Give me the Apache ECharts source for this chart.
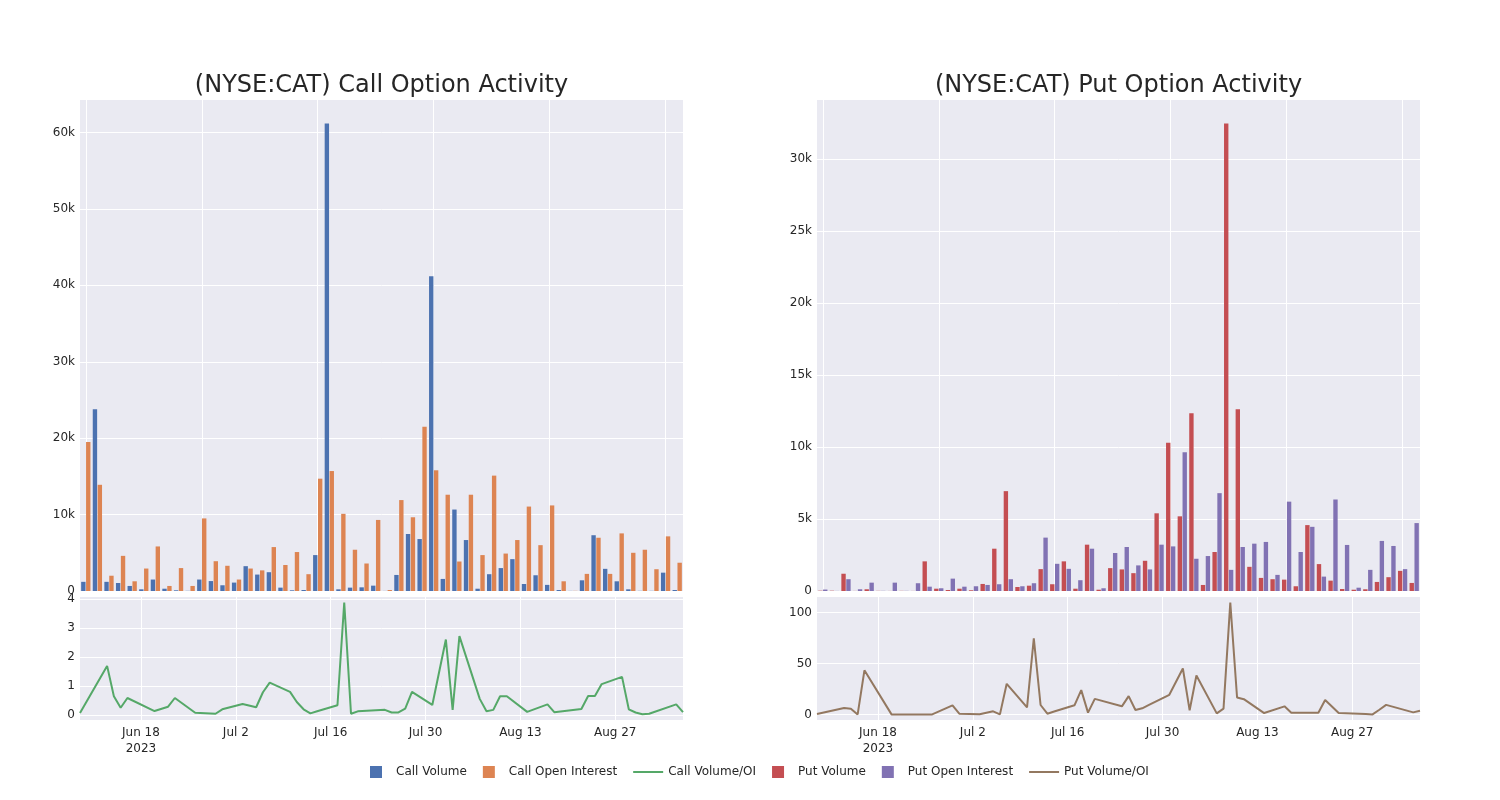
<!DOCTYPE html>
<html><head><meta charset="utf-8">
<script src="https://cdn.jsdelivr.net/npm/echarts@6/dist/echarts.min.js"></script>
<style>html,body{margin:0;padding:0;background:#fff}#c{width:1500px;height:800px}</style>
</head><body><div id="c"></div>
<script>
// ---- data ----
const dates = [
 '2023-06-09','2023-06-13','2023-06-14','2023-06-15','2023-06-16','2023-06-20','2023-06-22','2023-06-23','2023-06-26','2023-06-29','2023-06-30',
 '2023-07-03','2023-07-05','2023-07-06','2023-07-07','2023-07-10','2023-07-11','2023-07-12','2023-07-13','2023-07-14','2023-07-17','2023-07-18','2023-07-19','2023-07-20','2023-07-24','2023-07-25','2023-07-26','2023-07-27','2023-07-28','2023-07-31',
 '2023-08-02','2023-08-03','2023-08-04','2023-08-07','2023-08-08','2023-08-09','2023-08-10','2023-08-11','2023-08-14','2023-08-17','2023-08-18','2023-08-22','2023-08-23','2023-08-24','2023-08-25','2023-08-28','2023-08-29','2023-08-30','2023-08-31',
 '2023-09-01','2023-09-05','2023-09-06'];
const callVolume = [1200,23800,1200,1050,660,220,1500,300,90,20,1500,1300,750,1100,3250,2150,2460,440,90,130,4700,61200,220,440,480,700,10,2100,7460,6800,41200,1580,10660,6670,300,2200,3000,4170,920,2060,800,130,13,1400,7300,2900,1270,220,20,20,2400,130];
const callOpenInterest = [19500,13900,2000,4600,1270,2940,5830,660,3000,660,9500,3900,3300,1500,2940,2700,5750,3400,5100,2200,14700,15700,10100,5400,3600,9300,130,11900,9650,21500,15800,12600,3860,12600,4700,15100,4900,6670,11050,6000,11200,1270,20,2240,6970,2240,7540,5000,5400,2850,7150,3700];
const callVolumeOI = [0.06,1.69,0.64,0.245,0.58,0.13,0.28,0.58,0.07,0.035,0.19,0.37,0.26,0.78,1.11,0.79,0.44,0.19,0.05,0.12,0.33,3.88,0.035,0.12,0.17,0.08,0.08,0.21,0.79,0.34,2.6,0.17,2.72,0.55,0.12,0.17,0.64,0.64,0.1,0.36,0.09,0.2,0.65,0.65,1.06,1.31,0.19,0.08,0.02,0.035,0.36,0.09];
const putVolume = [20,20,1200,5,120,10,5,10,5,2060,160,70,160,50,490,2940,6940,280,370,1520,470,2060,160,3220,90,1590,1500,1240,2100,5400,10300,5190,12360,420,2710,32500,12640,1680,910,820,790,330,4580,1870,720,140,90,120,630,960,1400,560];
const putOpenInterest = [100,5,820,120,580,10,580,10,540,300,190,860,300,330,420,470,820,330,540,3710,1890,1540,750,2940,190,2640,3060,1780,1500,3220,3100,9650,2240,2430,6800,1470,3060,3290,3410,1120,6210,2710,4460,1000,6360,3200,230,1470,3480,3130,1520,4720];
const putVolumeOI = [0.3,6.3,5.6,0,43.2,0,0,0,0,8.9,0.7,0.1,3.0,0,30,6.9,74.6,9.2,0.7,2.8,8.9,23.8,1.7,15.2,7.9,17.9,4.3,6.0,9.3,19.2,45.0,4.0,38.1,1.0,5.6,109.6,16.6,14.9,1.3,7.9,1.7,1.7,14.2,7.8,1.3,0.7,0.5,0,4.6,9.3,2.0,3.6];
const dateTicks = ['2023-06-18','2023-07-02','2023-07-16','2023-07-30','2023-08-13','2023-08-27'];
const callTicks = [0,10000,20000,30000,40000,50000,60000];
const putTicks = [0,5000,10000,15000,20000,25000,30000];
const callRatioTicks = [0,1,2,3,4];
const putRatioTicks = [0,50,100];

// ---- helpers ----
const ts = s => echarts.number.parseDate(s).getTime();
const months = ['Jan','Feb','Mar','Apr','May','Jun','Jul','Aug','Sep','Oct','Nov','Dec'];
const firstTick = ts(dateTicks[0]);
const fmtDate = v => { const d = new Date(v); let s = months[d.getMonth()] + ' ' + d.getDate(); if (v === firstTick) s += '\n' + d.getFullYear(); return s; };
const fmtK = v => v === 0 ? '0' : (v / 1000) + 'k';
const TXT = '#262626', BG = '#EAEAF2';
const lbl = {color: TXT, fontSize: 12, fontFamily: 'DejaVu Sans'};
const white = {show: true, lineStyle: {color: '#fff', width: 1}};
const sq = 'path://M0,0L10,0L10,10L0,10Z';
const ln = 'path://M0,0L30,0L30,2L0,2Z';

function catX(g) {
  return {type: 'category', gridIndex: g, data: dates, boundaryGap: true,
    axisLabel: {show: false}, axisTick: {show: false}, axisLine: {show: false},
    splitLine: {show: true, interval: 9, alignWithLabel: true, lineStyle: {color: '#fff', width: 1}}};
}
function timeX(g) {
  const tv = dateTicks.map(ts);
  return {type: 'value', gridIndex: g, min: ts(dates[0]), max: ts(dates[dates.length - 1]), scale: true,
    axisLabel: Object.assign({customValues: tv, formatter: fmtDate, margin: 5, lineHeight: 16, hideOverlap: false}, lbl),
    axisTick: {show: false, customValues: tv}, axisLine: {show: false}, splitLine: white};
}
function valY(g, ticks, min, max, fmt) {
  return {type: 'value', gridIndex: g, min: min, max: max,
    axisLabel: Object.assign({customValues: ticks, formatter: fmt, margin: 5}, lbl),
    axisTick: {show: false, customValues: ticks}, axisLine: {show: false}, splitLine: white};
}
const barStyle = c => ({color: c});
const BG_GAP = '12%', CAT_GAP = '20%';

const option = {
  animation: false,
  backgroundColor: '#fff',
  textStyle: {fontFamily: 'DejaVu Sans'},
  title: [
    {text: '(NYSE:CAT) Call Option Activity', left: 376.5, top: 69, textAlign: 'center', textStyle: {fontSize: 24, fontWeight: 'normal', color: TXT, fontFamily: 'DejaVu Sans'}},
    {text: '(NYSE:CAT) Put Option Activity', left: 1113.5, top: 69, textAlign: 'center', textStyle: {fontSize: 24, fontWeight: 'normal', color: TXT, fontFamily: 'DejaVu Sans'}}
  ],
  legend: {
    left: 365, top: 761, itemWidth: 30, itemHeight: 12, itemGap: 16,
    textStyle: {color: TXT, fontSize: 12, fontFamily: 'DejaVu Sans'},
    data: [
      {name: 'Call Volume', icon: sq}, {name: 'Call Open Interest', icon: sq}, {name: 'Call Volume/OI', icon: ln},
      {name: 'Put Volume', icon: sq}, {name: 'Put Open Interest', icon: sq}, {name: 'Put Volume/OI', icon: ln}
    ]
  },
  grid: [
    {left: 80, width: 603, top: 100, height: 491, show: true, backgroundColor: BG, borderWidth: 0},
    {left: 80, width: 603, top: 597, height: 123, show: true, backgroundColor: BG, borderWidth: 0},
    {left: 817, width: 603, top: 100, height: 491, show: true, backgroundColor: BG, borderWidth: 0},
    {left: 817, width: 603, top: 597, height: 123, show: true, backgroundColor: BG, borderWidth: 0}
  ],
  xAxis: [catX(0), timeX(1), catX(2), timeX(3)],
  yAxis: [
    valY(0, callTicks, 0, 64260, fmtK),
    valY(1, callRatioTicks, -0.18, 4.07, v => String(v)),
    valY(2, putTicks, 0, 34125, fmtK),
    valY(3, putRatioTicks, -5.5, 115.1, v => String(v))
  ],
  series: [
    {name: 'Call Volume', type: 'bar', xAxisIndex: 0, yAxisIndex: 0, data: callVolume, itemStyle: barStyle('#4C72B0'), barGap: BG_GAP, barCategoryGap: CAT_GAP},
    {name: 'Call Open Interest', type: 'bar', xAxisIndex: 0, yAxisIndex: 0, data: callOpenInterest, itemStyle: barStyle('#DD8452'), barGap: BG_GAP, barCategoryGap: CAT_GAP},
    {name: 'Call Volume/OI', type: 'line', xAxisIndex: 1, yAxisIndex: 1, symbol: 'none', data: dates.map((d, i) => [ts(d), callVolumeOI[i]]), lineStyle: {color: '#55A868', width: 2}, itemStyle: {color: '#55A868'}},
    {name: 'Put Volume', type: 'bar', xAxisIndex: 2, yAxisIndex: 2, data: putVolume, itemStyle: barStyle('#C44E52'), barGap: BG_GAP, barCategoryGap: CAT_GAP},
    {name: 'Put Open Interest', type: 'bar', xAxisIndex: 2, yAxisIndex: 2, data: putOpenInterest, itemStyle: barStyle('#8172B3'), barGap: BG_GAP, barCategoryGap: CAT_GAP},
    {name: 'Put Volume/OI', type: 'line', xAxisIndex: 3, yAxisIndex: 3, symbol: 'none', data: dates.map((d, i) => [ts(d), putVolumeOI[i]]), lineStyle: {color: '#937860', width: 2}, itemStyle: {color: '#937860'}}
  ]
};
const chart = echarts.init(document.getElementById('c'), null, {renderer: 'canvas'});
chart.setOption(option);
</script>
</body></html>
